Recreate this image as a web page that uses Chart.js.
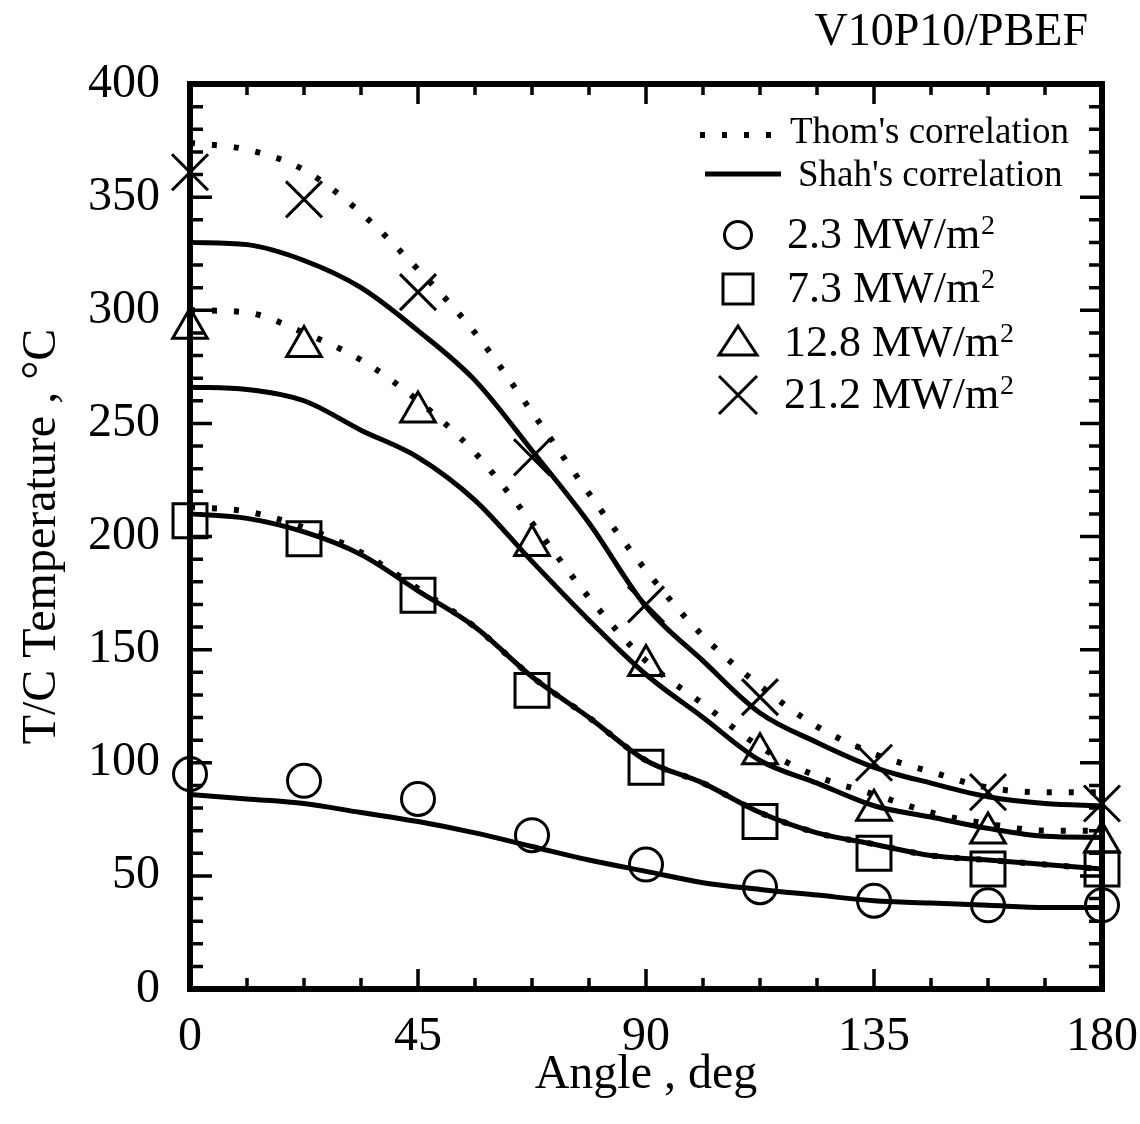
<!DOCTYPE html>
<html>
<head>
<meta charset="utf-8">
<script src="https://cdn.jsdelivr.net/npm/chart.js@4.4.1/dist/chart.umd.min.js"></script>
<style>
  html, body { margin: 0; padding: 0; background: #fff; }
  #wrap { width: 1140px; height: 1124px; position: relative; }
</style>
</head>
<body>
<div id="wrap"><canvas id="myChart"></canvas></div>
<script>
// measured points (T/C temperature, degC) at each angle
const markerAngles = [0, 22.5, 45, 67.5, 90, 112.5, 135, 157.5, 180];
const flux23 = [95, 92, 84, 68, 55, 45, 39, 37, 37];
const flux73 = [207, 199, 174, 132, 98, 74, 60, 53, 53];
const flux128 = [292, 284, 255, 196, 143, 104, 79, 69, 65];
const flux212 = [361, 349, 308, 235, 170, 129, 100, 87, 82];

// correlation curves
const curveAngles = [0, 11.25, 22.5, 33.75, 45, 56.25, 67.5, 78.75, 90, 101.25, 112.5, 123.75, 135, 146.25, 157.5, 168.75, 180];
const shah23 = [86, 84, 82, 78, 74, 69, 63, 57, 52, 47, 44, 41.5, 39, 38, 37, 36, 36];
const shah73 = [210, 208, 202, 192, 176, 160, 138, 120, 101, 91, 78, 69, 64, 59, 57, 55, 53];
const thom73 = [213, 211, 204, 193, 177, 160, 138, 120, 101, 91, 78, 69, 64, 59, 57, 55, 53];
const shah128 = [266, 265, 260, 247, 235, 216, 189, 163, 139, 120, 101, 91, 81, 76, 71, 67.5, 67];
const thom128 = [300, 299, 290, 278, 260, 237, 206, 173, 145, 126, 107, 94, 86, 78, 73, 70, 70];
const shah212 = [330, 329, 322, 310, 291, 269, 238, 206, 169, 145, 122, 109, 98, 91, 85, 82, 81];
const thom212 = [374, 371, 362, 343, 318, 290, 255, 219, 185, 156, 134, 116, 104, 96, 89, 87, 87];

const xTicks = [0, 45, 90, 135, 180];
const yTicks = [0, 50, 100, 150, 200, 250, 300, 350, 400];
const fluxLabels = ["2.3", "7.3", "12.8", "21.2"];

const FONT = "'Liberation Serif', 'Times New Roman', serif";
Chart.defaults.font.family = FONT;
Chart.defaults.color = "#000";

const pts = (xs, ys) => ys.map((v, i) => ({ x: xs[i], y: v }));

function curve(ys, dotted) {
  return {
    data: pts(curveAngles, ys),
    showLine: true,
    pointRadius: 0,
    borderColor: "#000",
    borderWidth: dotted ? 6 : 5,
    borderDash: dotted ? [5, 17] : [],
    cubicInterpolationMode: "monotone",
    clip: false,
  };
}

function markers(ys, style, r) {
  return {
    data: pts(markerAngles, ys),
    showLine: false,
    pointStyle: style,
    pointRadius: r,
    pointBorderWidth: 3,
    borderColor: "#000",
    backgroundColor: "rgba(0,0,0,0)",
    clip: false,
  };
}

// inner ticks and heavy frame
const framePlugin = {
  id: "frame",
  afterDatasetsDraw(chart) {
    const { ctx, chartArea: a, scales: { x, y } } = chart;
    ctx.save();
    ctx.strokeStyle = "#000";
    ctx.lineWidth = 3.5;
    ctx.beginPath();
    for (let v = 0; v <= 180; v += 11.25) {
      const px = x.getPixelForValue(v);
      const len = v % 45 === 0 ? 20 : 11;
      ctx.moveTo(px, a.bottom); ctx.lineTo(px, a.bottom - len);
      ctx.moveTo(px, a.top); ctx.lineTo(px, a.top + len);
    }
    for (let v = 0; v <= 400; v += 10) {
      const py = y.getPixelForValue(v);
      const len = v % 50 === 0 ? 22 : 13;
      ctx.moveTo(a.left, py); ctx.lineTo(a.left + len, py);
      ctx.moveTo(a.right, py); ctx.lineTo(a.right - len, py);
    }
    ctx.stroke();
    ctx.lineWidth = 6;
    ctx.strokeRect(a.left, a.top, a.right - a.left, a.bottom - a.top);
    ctx.restore();
  },
};

// legend + corner title
const legendPlugin = {
  id: "paperLegend",
  afterDraw(chart) {
    const ctx = chart.ctx;
    ctx.save();
    ctx.fillStyle = "#000";
    ctx.strokeStyle = "#000";
    ctx.textBaseline = "alphabetic";

    ctx.font = "46px " + FONT;
    ctx.textAlign = "right";
    ctx.fillText("V10P10/PBEF", 1088, 45);
    ctx.textAlign = "left";

    ctx.lineWidth = 6;
    ctx.setLineDash([5, 17]);
    ctx.beginPath(); ctx.moveTo(700, 135); ctx.lineTo(780, 135); ctx.stroke();
    ctx.setLineDash([]);
    ctx.lineWidth = 5;
    ctx.beginPath(); ctx.moveTo(705, 174); ctx.lineTo(781, 174); ctx.stroke();

    ctx.font = "37px " + FONT;
    ctx.fillText("Thom's correlation", 790, 143);
    ctx.fillText("Shah's correlation", 798, 186);

    const rows = [248, 302, 356, 408];
    ctx.lineWidth = 3;
    fluxLabels.forEach((lab, i) => {
      const base = rows[i];
      const cy = base - 13;
      const cx = 738;
      ctx.beginPath();
      if (i === 0) {
        ctx.arc(cx, cy, 13.5, 0, Math.PI * 2);
      } else if (i === 1) {
        ctx.rect(cx - 15, cy - 15, 30, 30);
      } else if (i === 2) {
        ctx.moveTo(cx, cy - 17); ctx.lineTo(cx + 19, cy + 12); ctx.lineTo(cx - 19, cy + 12); ctx.closePath();
      } else {
        ctx.moveTo(cx - 19, cy - 19); ctx.lineTo(cx + 19, cy + 19);
        ctx.moveTo(cx + 19, cy - 19); ctx.lineTo(cx - 19, cy + 19);
      }
      ctx.stroke();
      ctx.font = "44px " + FONT;
      const txt = lab + " MW/m";
      const tx = i >= 2 ? 784 : 787;
      ctx.fillText(txt, tx, base);
      const w = ctx.measureText(txt).width;
      ctx.font = "28px " + FONT;
      ctx.fillText("2", tx + w + 1, base - 14);
    });
    ctx.restore();
  },
};

const ctx = document.getElementById("myChart");

new Chart(ctx, {
  type: "scatter",
  data: {
    datasets: [
      curve(shah23, false),
      curve(shah73, false),
      curve(thom73, true),
      curve(shah128, false),
      curve(thom128, true),
      curve(shah212, false),
      curve(thom212, true),
      markers(flux23, "circle", 16.5),
      markers(flux73, "rect", 24),
      markers(flux128, "triangle", 20),
      markers(flux212, "crossRot", 25.5),
    ],
  },
  options: {
    responsive: true,
    maintainAspectRatio: false,
    animation: false,
    events: [],
    layout: { padding: { top: 84, right: 38, left: 0, bottom: 0 } },
    plugins: {
      legend: { display: false },
      tooltip: { enabled: false },
    },
    scales: {
      x: {
        type: "linear",
        min: 0,
        max: 180,
        afterBuildTicks: (s) => { s.ticks = xTicks.map((v) => ({ value: v })); },
        afterFit: (s) => { s.height = 135; s.paddingLeft = 0; s.paddingRight = 0; },
        grid: { display: false, drawTicks: false },
        border: { display: false },
        ticks: { font: { size: 48 }, padding: 20, maxRotation: 0 },
        title: {
          display: true,
          text: "Angle , deg",
          font: { size: 48 },
          padding: { top: 0, bottom: 20 },
        },
      },
      y: {
        min: 0,
        max: 400,
        afterBuildTicks: (s) => { s.ticks = yTicks.map((v) => ({ value: v })); },
        afterFit: (s) => { s.width = 190; s.paddingTop = 0; s.paddingBottom = 0; },
        grid: { display: false, drawTicks: false },
        border: { display: false },
        ticks: { font: { size: 48 }, padding: 30 },
        title: {
          display: true,
          text: "T/C Temperature , °C",
          font: { size: 48 },
          padding: { top: 14, bottom: 0 },
        },
      },
    },
  },
  plugins: [framePlugin, legendPlugin],
});
</script>
</body>
</html>
